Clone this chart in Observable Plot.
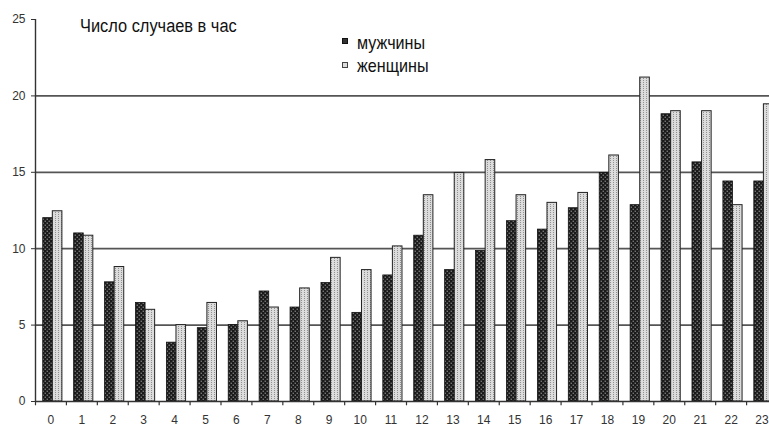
<!DOCTYPE html>
<html><head><meta charset="utf-8">
<script src="https://cdn.jsdelivr.net/npm/d3@7"></script>
<script src="https://cdn.jsdelivr.net/npm/@observablehq/plot@0.6"></script>
<style>
html,body{margin:0;padding:0;background:#fff;overflow:hidden}
#wrap{position:relative;width:769px;height:427px;overflow:hidden}
.t{position:absolute;font-family:"Liberation Sans",Arial,sans-serif;color:#111;white-space:nowrap;transform-origin:0 0;line-height:1}
.sw{position:absolute;width:6px;height:6px;box-sizing:border-box}
</style></head><body>
<div id="wrap">
  <div id="chart"></div>
</div>
<script>
const hours = ["0","1","2","3","4","5","6","7","8","9","10","11","12","13","14","15","16","17","18","19","20","21","22","23"];
const men   = [12.0, 11.0, 7.8, 6.45, 3.85, 4.8, 5.0, 7.2, 6.15, 7.75, 5.8, 8.25, 10.85, 8.6, 9.85, 11.8, 11.25, 12.65, 14.95, 12.85, 18.8, 15.65, 14.4, 14.4];
const women = [12.45, 10.85, 8.8, 6.0, 5.0, 6.45, 5.25, 6.15, 7.4, 9.4, 8.6, 10.15, 13.5, 14.95, 15.8, 13.5, 13.0, 13.65, 16.1, 21.2, 19.0, 19.0, 12.85, 19.45];
const yTicks = [0, 5, 10, 15, 20, 25];
const gridValues = [5, 10, 15, 20];
const seriesNames = ["мужчины", "женщины"];
const titleText = "Число случаев в час";

const menData = hours.map((h, i) => ({hour: h, value: men[i]}));
const womenData = hours.map((h, i) => ({hour: h, value: women[i]}));

const W = 769, H = 427, ML = 35, MR = -8;
const bw = (W - ML - MR) / hours.length;

const chart = Plot.plot({
  width: W, height: H,
  marginLeft: ML, marginRight: MR, marginTop: 19, marginBottom: 26,
  style: {fontSize: "12px", fontFamily: "Liberation Sans, Arial, sans-serif", color: "#333", background: "#fff"},
  x: {type: "band", domain: hours, padding: 0, round: false, tickSize: 0, tickPadding: 14, label: null},
  y: {domain: [0, 25], ticks: yTicks, tickSize: 4, tickPadding: 6, label: null},
  marks: [
    Plot.ruleY(gridValues, {stroke: "#555", strokeWidth: 1.8}),
    Plot.barY(menData, {x: "hour", y: "value", fill: "url(#patMen)", stroke: "#111", strokeWidth: 0.8,
      insetLeft: bw * 0.25, insetRight: bw * 0.44}),
    Plot.barY(womenData, {x: "hour", y: "value", fill: "url(#patWomen)", stroke: "#222", strokeWidth: 1,
      insetLeft: bw * 0.56, insetRight: bw * 0.13}),
    Plot.ruleX(hours, {x: d => d, dx: -bw / 2, y1: 0, y2: -0.28, stroke: "#333", strokeWidth: 1.2}),
    Plot.ruleY([0], {stroke: "#333", strokeWidth: 1.4}),
    Plot.ruleX([hours[0]], {x: d => d, dx: -bw / 2, y1: 0, y2: 25, stroke: "#333", strokeWidth: 1.4})
  ]
});

// patterns
const defs = d3.select(chart).insert("defs", ":first-child");
const pm = defs.append("pattern").attr("id", "patMen").attr("patternUnits", "userSpaceOnUse").attr("width", 4).attr("height", 4);
pm.append("rect").attr("width", 4).attr("height", 4).attr("fill", "#1a1a1a");
pm.append("rect").attr("x", 0.6).attr("y", 0.6).attr("width", 1.3).attr("height", 1.3).attr("fill", "#888");
pm.append("rect").attr("x", 2.6).attr("y", 2.6).attr("width", 1.3).attr("height", 1.3).attr("fill", "#888");
const pw = defs.append("pattern").attr("id", "patWomen").attr("patternUnits", "userSpaceOnUse").attr("width", 3).attr("height", 2);
pw.append("rect").attr("width", 3).attr("height", 2).attr("fill", "#dcdcdc");
pw.append("rect").attr("x", 1).attr("y", 0).attr("width", 1).attr("height", 1).attr("fill", "#909090");

const wrap = document.getElementById("wrap");
document.getElementById("chart").appendChild(chart);

function addText(txt, left, top, size, sx) {
  const d = document.createElement("div");
  d.className = "t";
  d.textContent = txt;
  d.style.left = left + "px";
  d.style.top = top + "px";
  d.style.fontSize = size + "px";
  d.style.transform = "scaleX(" + sx + ")";
  wrap.appendChild(d);
}
function addSwatch(left, top, bg, border) {
  const s = document.createElement("div");
  s.className = "sw";
  s.style.left = left + "px";
  s.style.top = top + "px";
  s.style.background = bg;
  s.style.border = "1px solid " + border;
  wrap.appendChild(s);
}
addText(titleText, 80, 17, 18, 0.91);
addSwatch(342, 38, "#333", "#111");
addText(seriesNames[0], 357, 33, 19, 0.85);
addSwatch(342, 62, "#ddd", "#444");
addText(seriesNames[1], 357, 56, 19, 0.85);
</script>
</body></html>
